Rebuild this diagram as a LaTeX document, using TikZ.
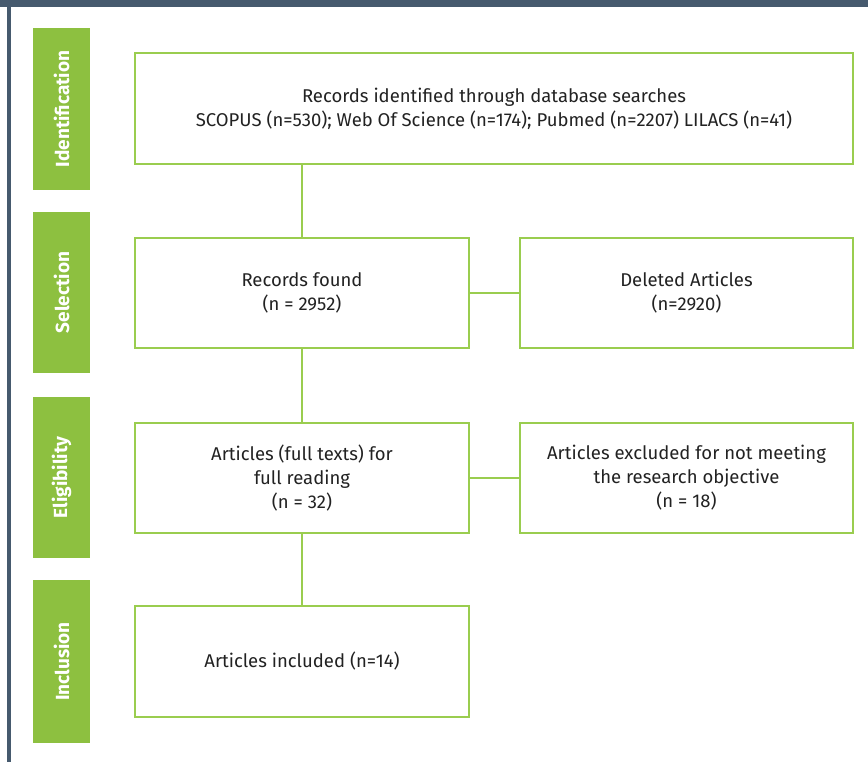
\documentclass[tikz,border=0pt]{standalone}
\usepackage{fontspec}
\setmainfont{Fira Sans}
\definecolor{frame}{HTML}{465A6E}
\definecolor{lab}{HTML}{8DC040}
\definecolor{bord}{HTML}{9ACD4F}
\definecolor{txt}{HTML}{222222}
\begin{document}
\begin{tikzpicture}[x=1pt,y=-1pt,
  stage/.style={fill=lab,draw=none,text=white,font=\bfseries\fontsize{19}{22}\selectfont},
  box/.style={draw=bord,line width=2.2pt,fill=white,text=txt,align=center,font=\fontsize{18.5}{24}\selectfont},
  link/.style={draw=bord,line width=2pt}]
\useasboundingbox (0,0) rectangle (868,762);
\fill[white] (0,0) rectangle (868,762);
\fill[frame] (0,0) rectangle (868,7);
\fill[frame] (7,0) rectangle (11,762);
% stage labels
\foreach \n/\t/\a/\b in {id/Identification/28/190, se/Selection/212/373, el/Eligibility/397/558, in/Inclusion/580/743}{
  \fill[lab] (33,\a) rectangle (90,\b);
  \node[stage,rotate=90] (\n) at (61.5,{(\a+\b)/2}) {\t};
}
% boxes
\node[box,minimum width=718,minimum height=111] (b1) at (494,108.5) {Records identified through database searches\\SCOPUS (n=530); Web Of Science (n=174); Pubmed (n=2207) LILACS (n=41)};
\node[box,minimum width=334,minimum height=110] (b2) at (302,293) {Records found\\(n = 2952)};
\node[box,minimum width=333,minimum height=110] (b3) at (686.5,293) {Deleted Articles\\(n=2920)};
\node[box,minimum width=334,minimum height=110] (b4) at (302,478) {Articles (full texts) for\\full reading\\(n = 32)};
\node[box,minimum width=333,minimum height=110] (b5) at (686.5,478) {Articles excluded for not meeting\\the research objective\\(n = 18)};
\node[box,minimum width=334,minimum height=111] (b6) at (302,661.5) {Articles included (n=14)};
% connectors
\coordinate (c1) at (302,164);
\draw[link] (c1) -- (b2.north);
\draw[link] (b2.south) -- (b4.north);
\draw[link] (b4.south) -- (b6.north);
\draw[link] (b2.east) -- (b3.west);
\draw[link] (b4.east) -- (b5.west);
\end{tikzpicture}
\end{document}
